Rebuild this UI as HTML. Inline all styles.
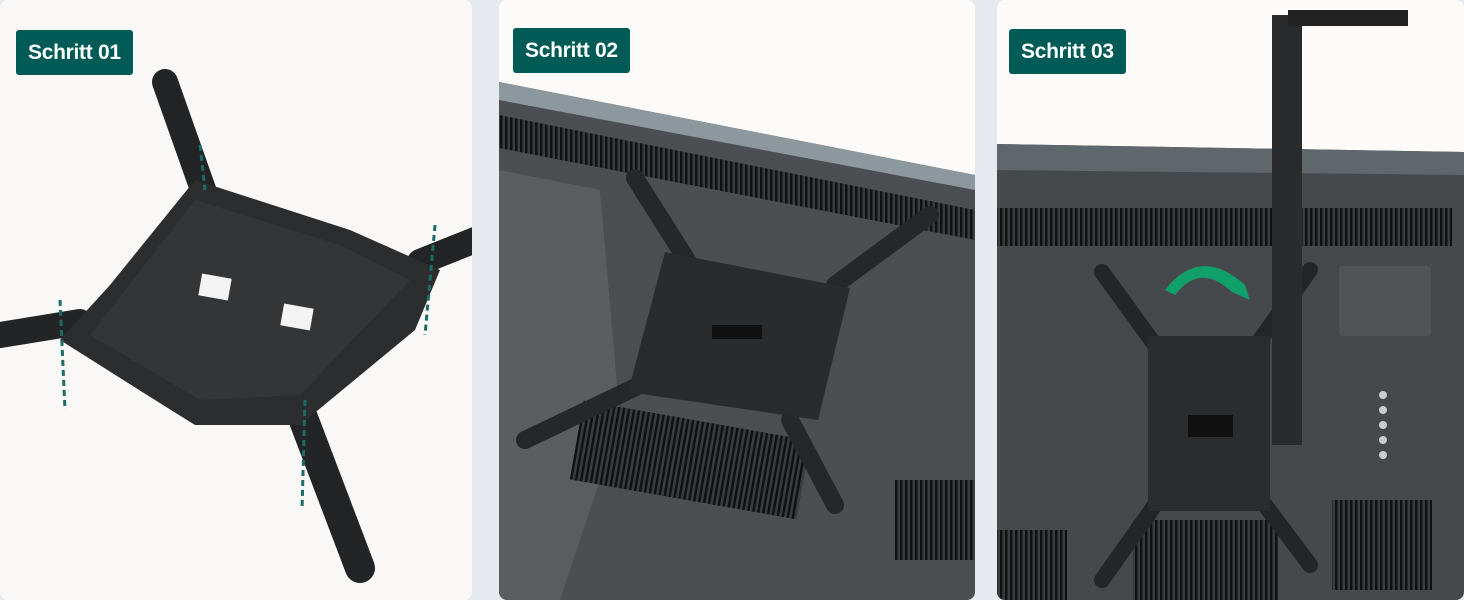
<!DOCTYPE html>
<html><head><meta charset="utf-8"><style>
html,body{margin:0;padding:0;background:#e6eaee;width:1464px;height:600px;overflow:hidden}
.lab{position:absolute;background:#005a55;color:#fff;font:bold 21px "Liberation Sans",sans-serif;border-radius:3px;height:45px;line-height:45px;padding:0 12px;box-sizing:border-box;letter-spacing:-0.3px}
</style></head><body>
<svg width="1464" height="600" style="position:absolute;left:0;top:0">
<defs>
<clipPath id="c1"><rect x="0" y="0" width="472" height="600" rx="8"/></clipPath>
<clipPath id="c2"><rect x="499" y="0" width="476" height="600" rx="8"/></clipPath>
<clipPath id="c3"><rect x="997" y="0" width="467" height="600" rx="8"/></clipPath>
<pattern id="vent" width="5" height="10" patternUnits="userSpaceOnUse"><rect width="5" height="10" fill="#3a3d3f"/><rect width="2.5" height="10" fill="#111"/></pattern>
</defs>
<g clip-path="url(#c1)">
<rect x="0" y="0" width="472" height="600" fill="#f9f8f6"/>
<g stroke="#232425" stroke-linecap="round" fill="none">
<line x1="165" y1="82" x2="205" y2="195" stroke-width="26"/>
<line x1="420" y1="262" x2="480" y2="238" stroke-width="26"/>
<line x1="0" y1="335" x2="80" y2="322" stroke-width="26"/>
<line x1="300" y1="410" x2="360" y2="568" stroke-width="30"/>
</g>
<polygon points="195,180 350,230 440,270 415,330 300,425 195,425 155,400 60,340 110,285" fill="#2c2d2e"/>
<polygon points="195,200 340,245 410,280 300,395 200,400 90,335" fill="#333536"/>
<rect x="200" y="276" width="30" height="22" fill="#f3f3f3" transform="rotate(10 215 287)"/>
<rect x="282" y="306" width="30" height="22" fill="#f3f3f3" transform="rotate(10 297 317)"/>
<g stroke="#1c6b66" stroke-width="3" stroke-dasharray="6 4">
<line x1="60" y1="300" x2="65" y2="410"/><line x1="435" y1="225" x2="425" y2="335"/><line x1="305" y1="400" x2="302" y2="510"/><line x1="200" y1="145" x2="205" y2="190"/>
</g>
</g>
<g clip-path="url(#c2)">
<rect x="499" y="0" width="476" height="600" fill="#fdfbf9"/>
<polygon points="499,82 975,175 975,600 499,600" fill="#4b4f51"/>
<polygon points="499,82 975,175 975,190 499,100" fill="#8c989d"/>
<polygon points="499,115 975,210 975,240 499,148" fill="url(#vent)"/>
<polygon points="499,170 600,190 620,420 560,600 499,600" fill="#6d7173" opacity=".45"/>
<rect x="575" y="420" width="230" height="80" fill="url(#vent)" transform="rotate(10 690 460)"/>
<rect x="895" y="480" width="80" height="80" fill="url(#vent)"/>
<g stroke="#262728" stroke-width="18" stroke-linecap="round">
<line x1="635" y1="178" x2="690" y2="265"/><line x1="930" y1="215" x2="835" y2="285"/>
<line x1="525" y1="440" x2="640" y2="385"/><line x1="835" y1="505" x2="790" y2="420"/>
</g>
<polygon points="665,252 850,288 818,420 628,392" fill="#2a2b2c"/>
<rect x="712" y="325" width="50" height="14" fill="#111"/>
</g>
<g clip-path="url(#c3)">
<rect x="997" y="0" width="467" height="600" fill="#fdfbf9"/>
<polygon points="997,144 1464,152 1464,600 997,600" fill="#46494b"/>
<polygon points="997,144 1464,152 1464,175 997,170" fill="#5f676a"/>
<rect x="997" y="208" width="455" height="38" fill="url(#vent)"/>
<rect x="1339" y="266" width="92" height="70" fill="#505456" rx="3"/>
<rect x="997" y="530" width="70" height="70" fill="url(#vent)"/>
<rect x="1332" y="500" width="100" height="90" fill="url(#vent)"/>
<rect x="1133" y="520" width="145" height="80" fill="url(#vent)"/>
<g stroke="#242526" stroke-width="16" stroke-linecap="round">
<line x1="1102" y1="272" x2="1155" y2="345"/><line x1="1310" y1="270" x2="1260" y2="340"/>
<line x1="1102" y1="580" x2="1155" y2="505"/><line x1="1310" y1="565" x2="1265" y2="505"/>
</g>
<rect x="1148" y="336" width="122" height="175" fill="#2b2c2d"/>
<rect x="1188" y="415" width="45" height="22" fill="#111"/>
<path d="M1165,290 Q1200,245 1245,285 L1250,300 L1232,292 Q1200,262 1175,295 Z" fill="#12a06a"/>
<rect x="1272" y="15" width="30" height="430" fill="#2a2b2c"/>
<rect x="1288" y="10" width="120" height="16" fill="#222"/>
<g fill="#ccc"><circle cx="1383" cy="395" r="4"/><circle cx="1383" cy="410" r="4"/><circle cx="1383" cy="425" r="4"/><circle cx="1383" cy="440" r="4"/><circle cx="1383" cy="455" r="4"/></g>
</g>
</svg>
<div class="lab" style="left:16px;top:30px">Schritt 01</div>
<div class="lab" style="left:513px;top:28px">Schritt&nbsp;02</div>
<div class="lab" style="left:1009px;top:29px">Schritt&nbsp;03</div>
</body></html>
